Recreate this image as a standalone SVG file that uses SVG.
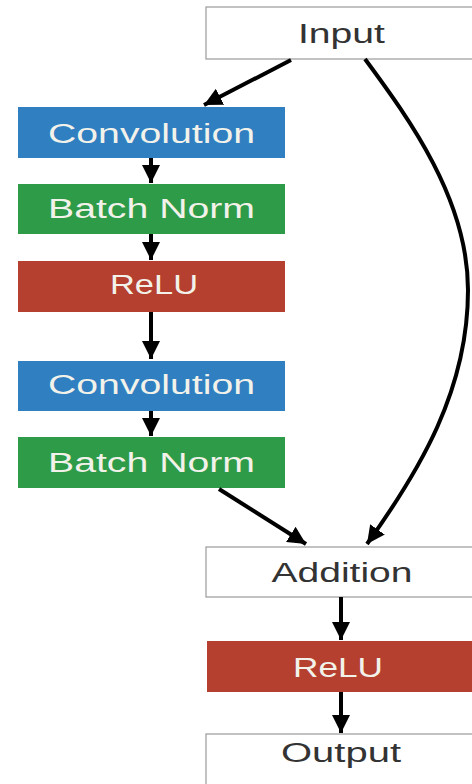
<svg xmlns="http://www.w3.org/2000/svg" width="472" height="784" viewBox="0 0 472 784">
  <style>
    .lbl { font-family: "Liberation Sans", Arial, sans-serif; font-size: 27px; text-anchor: middle; }
    .dark { fill: #333333; }
    .light { fill: #f2f2ea; }
    .white { fill: #ffffff; stroke: #9a9a9a; stroke-width: 1.2; }
    .blue { fill: #2f7fc1; }
    .green { fill: #2e9b48; }
    .red { fill: #b5402f; }
    .conn { fill: none; stroke: #000000; stroke-width: 4; marker-end: url(#ah); }
  </style>
  <defs>
    <marker id="ah" viewBox="0 0 10 10" refX="10" refY="5" markerWidth="18" markerHeight="18" markerUnits="userSpaceOnUse" orient="auto">
      <path d="M0,0 L10,5 L0,10 z" fill="#000000"/>
    </marker>
  </defs>
  <rect width="472" height="784" fill="#ffffff"/>

  <g id="input">
    <rect class="white" x="206" y="7" width="270" height="52"/>
    <text class="lbl dark" x="341.5" y="43" textLength="87" lengthAdjust="spacingAndGlyphs">Input</text>
  </g>
  <g id="conv1">
    <rect class="blue" x="18" y="107" width="267" height="51"/>
    <text class="lbl light" x="151.5" y="143" textLength="207" lengthAdjust="spacingAndGlyphs">Convolution</text>
  </g>
  <g id="bn1">
    <rect class="green" x="18" y="184" width="267" height="50"/>
    <text class="lbl light" x="151.5" y="218" textLength="207" lengthAdjust="spacingAndGlyphs">Batch Norm</text>
  </g>
  <g id="relu1">
    <rect class="red" x="18" y="261" width="267" height="51"/>
    <text class="lbl light" x="154" y="294" textLength="88" lengthAdjust="spacingAndGlyphs">ReLU</text>
  </g>
  <g id="conv2">
    <rect class="blue" x="18" y="361" width="267" height="50"/>
    <text class="lbl light" x="151.5" y="394" textLength="207" lengthAdjust="spacingAndGlyphs">Convolution</text>
  </g>
  <g id="bn2">
    <rect class="green" x="18" y="437" width="267" height="51"/>
    <text class="lbl light" x="151.5" y="472" textLength="207" lengthAdjust="spacingAndGlyphs">Batch Norm</text>
  </g>
  <g id="addition">
    <rect class="white" x="206" y="547" width="270" height="50"/>
    <text class="lbl dark" x="342" y="582" textLength="141" lengthAdjust="spacingAndGlyphs">Addition</text>
  </g>
  <g id="relu2">
    <rect class="red" x="207" y="641" width="270" height="51"/>
    <text class="lbl light" x="338" y="677" textLength="90" lengthAdjust="spacingAndGlyphs">ReLU</text>
  </g>
  <g id="output">
    <rect class="white" x="206" y="734" width="270" height="56"/>
    <text class="lbl dark" x="341" y="762" textLength="120" lengthAdjust="spacingAndGlyphs">Output</text>
  </g>

  <g id="connectors">
    <line class="conn" x1="291" y1="60" x2="204" y2="105"/>
    <line class="conn" x1="151" y1="158" x2="151" y2="183"/>
    <line class="conn" x1="151" y1="234" x2="151" y2="260"/>
    <line class="conn" x1="151" y1="312" x2="151" y2="359"/>
    <line class="conn" x1="151" y1="411" x2="151" y2="436"/>
    <line class="conn" x1="219" y1="489" x2="306" y2="544"/>
    <path class="conn" d="M365,59 C410,120 468,200 468,290 C468,390 420,470 367,544"/>
    <line class="conn" x1="341" y1="597" x2="341" y2="640"/>
    <line class="conn" x1="341" y1="692" x2="341" y2="733"/>
  </g>
</svg>
